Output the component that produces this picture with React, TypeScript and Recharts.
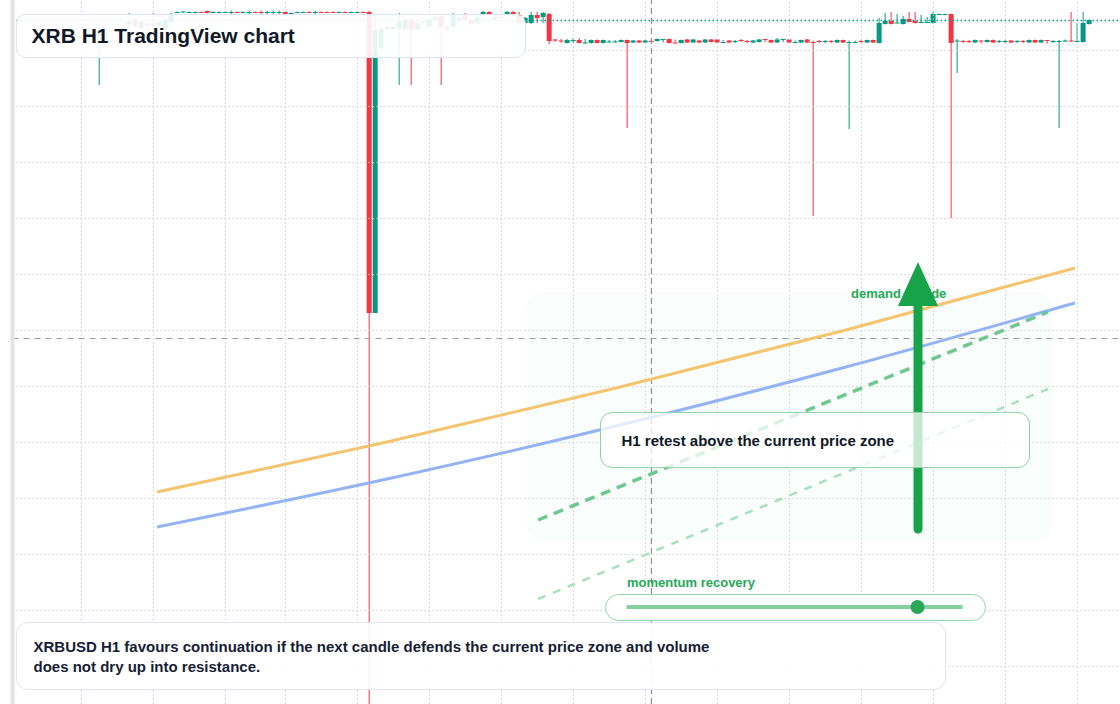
import {
  Bar,
  ComposedChart,
  Line,
  ReferenceArea,
  ReferenceLine,
  XAxis,
  YAxis,
} from "recharts";

const UP = "#089981";
const DOWN = "#f23645";
const GRID = "#cfcfcf";
const FONT = '"Liberation Sans", Arial, Helvetica, sans-serif';
const INK = "#111827";

// XRBUSD H1 candles, index = hour slot
const OPEN = [
  null, null, null, null, null, null, null, null, null, null,
  null, null, null, null, 0.684, null, null, null, null, 0.696,
  0.7, 0.692, 0.696, 0.697, 0.694, 0.692, 0.698, 0.7075, 0.708, 0.7075,
  0.7075, 0.708, 0.709, 0.7075, 0.7075, 0.7075, 0.7075, 0.708, 0.7075, 0.7075,
  0.708, 0.708, 0.7075, 0.7075, 0.7075, 0.708, 0.7065, 0.7075, 0.7075, 0.708,
  0.7075, 0.708, 0.708, 0.708, 0.7075, 0.708, 0.7075, 0.7075, 0.708, 0.708,
  0.407, 0.672, 0.693, 0.691, 0.692, 0.691, 0.7, 0.691, 0.697, 0.694,
  0.701, 0.704, 0.693, 0.693, 0.7, 0.705, 0.7, 0.697, 0.705, 0.708,
  0.701, 0.703, 0.705, 0.708, 0.705, 0.697, 0.697, 0.705, 0.703, 0.706,
  0.6805, 0.6795, 0.677, 0.6795, 0.68, 0.677, 0.677, 0.68, 0.677, 0.678,
  0.678, 0.678, 0.68, 0.6775, 0.6795, 0.6775, 0.679, 0.679, 0.6805, 0.681,
  0.6775, 0.677, 0.6805, 0.6775, 0.6795, 0.6775, 0.6805, 0.6805, 0.6775, 0.6795,
  0.6785, 0.68, 0.679, 0.6775, 0.678, 0.681, 0.68, 0.6775, 0.6805, 0.6805,
  0.6775, 0.6775, 0.6805, 0.678, 0.679, 0.6785, 0.679, 0.6775, 0.68, 0.6775,
  0.6775, 0.679, 0.6775, 0.68, 0.677, 0.696, 0.699, 0.697, 0.696, 0.701,
  0.699, 0.6975, 0.6975, 0.697, 0.7058, 0.7058, 0.706, 0.679, 0.679, 0.679,
  0.6775, 0.6795, 0.678, 0.68, 0.6785, 0.6785, 0.6795, 0.6785, 0.679, 0.6775,
  0.68, 0.6775, 0.68, 0.6785, 0.6785, 0.679, 0.6795, 0.6785, 0.678, 0.696,
];
const HIGH = [
  null, null, null, null, null, null, null, null, null, null,
  null, null, null, null, 0.692, null, null, null, null, 0.707,
  0.702, 0.7, 0.698, 0.707, 0.699, 0.702, 0.707, 0.7085, 0.709, 0.7085,
  0.7085, 0.7085, 0.7095, 0.7085, 0.7085, 0.7085, 0.7095, 0.7085, 0.7085, 0.7095,
  0.7085, 0.7095, 0.7095, 0.7095, 0.7095, 0.7085, 0.7075, 0.7085, 0.7085, 0.7085,
  0.7095, 0.7085, 0.7085, 0.7085, 0.7085, 0.7085, 0.7085, 0.7085, 0.7085, 0.709,
  0.706, 0.693, 0.694, 0.694, 0.707, 0.702, 0.702, 0.699, 0.7, 0.703,
  0.704, 0.706, 0.694, 0.707, 0.703, 0.707, 0.701, 0.704, 0.709, 0.709,
  0.704, 0.704, 0.709, 0.709, 0.708, 0.703, 0.708, 0.708, 0.708, 0.707,
  0.681, 0.681, 0.681, 0.682, 0.682, 0.681, 0.6805, 0.6805, 0.6805, 0.68,
  0.68, 0.6805, 0.6805, 0.68, 0.68, 0.68, 0.6795, 0.6815, 0.681, 0.6815,
  0.6805, 0.6805, 0.681, 0.681, 0.68, 0.681, 0.681, 0.681, 0.68, 0.68,
  0.68, 0.681, 0.68, 0.68, 0.681, 0.681, 0.6805, 0.682, 0.681, 0.681,
  0.6795, 0.6805, 0.681, 0.6795, 0.68, 0.68, 0.68, 0.6805, 0.6805, 0.6795,
  0.6795, 0.68, 0.6805, 0.6805, 0.702, 0.707, 0.708, 0.706, 0.704, 0.708,
  0.708, 0.705, 0.703, 0.708, 0.7062, 0.7062, 0.7065, 0.681, 0.68, 0.68,
  0.6805, 0.6795, 0.6805, 0.6805, 0.68, 0.68, 0.68, 0.68, 0.68, 0.6805,
  0.6805, 0.6805, 0.68, 0.68, 0.68, 0.6805, 0.708, 0.697, 0.708, 0.7005,
];
const LOW = [
  null, null, null, null, null, null, null, null, null, null,
  null, null, null, null, 0.635, null, null, null, null, 0.69,
  0.692, 0.69, 0.693, 0.69, 0.692, 0.69, 0.697, 0.707, 0.7075, 0.707,
  0.707, 0.707, 0.7065, 0.707, 0.707, 0.707, 0.706, 0.707, 0.707, 0.706,
  0.707, 0.706, 0.706, 0.706, 0.706, 0.7055, 0.706, 0.707, 0.707, 0.707,
  0.706, 0.707, 0.707, 0.707, 0.707, 0.707, 0.707, 0.707, 0.707, 0.016,
  0.407, 0.67, 0.69, 0.69, 0.635, 0.689, 0.635, 0.69, 0.696, 0.693,
  0.7, 0.635, 0.69, 0.692, 0.699, 0.699, 0.695, 0.696, 0.704, 0.704,
  0.7, 0.7, 0.704, 0.704, 0.696, 0.696, 0.696, 0.697, 0.697, 0.676,
  0.678, 0.677, 0.6765, 0.677, 0.6765, 0.6765, 0.6765, 0.6765, 0.6765, 0.6775,
  0.6775, 0.6775, 0.592, 0.677, 0.677, 0.677, 0.678, 0.6785, 0.6775, 0.6765,
  0.677, 0.6765, 0.677, 0.677, 0.677, 0.677, 0.6775, 0.677, 0.677, 0.677,
  0.677, 0.678, 0.677, 0.677, 0.6775, 0.678, 0.677, 0.677, 0.678, 0.677,
  0.677, 0.677, 0.677, 0.504, 0.677, 0.677, 0.677, 0.677, 0.677, 0.591,
  0.677, 0.677, 0.677, 0.677, 0.6765, 0.6955, 0.6955, 0.6965, 0.6955, 0.6975,
  0.6965, 0.6975, 0.6975, 0.6965, 0.7058, 0.7058, 0.502, 0.647, 0.677, 0.677,
  0.677, 0.6765, 0.6775, 0.677, 0.677, 0.677, 0.677, 0.677, 0.677, 0.677,
  0.677, 0.677, 0.6765, 0.677, 0.592, 0.678, 0.678, 0.678, 0.6775, 0.6955,
];
const CLOSE = [
  null, null, null, null, null, null, null, null, null, null,
  null, null, null, null, 0.69, null, null, null, null, 0.698,
  0.694, 0.698, 0.695, 0.694, 0.698, 0.7, 0.705, 0.708, 0.7085, 0.708,
  0.708, 0.7075, 0.707, 0.708, 0.708, 0.708, 0.708, 0.7075, 0.708, 0.708,
  0.7075, 0.7075, 0.708, 0.708, 0.708, 0.706, 0.707, 0.708, 0.708, 0.7075,
  0.708, 0.7075, 0.7075, 0.7075, 0.708, 0.7075, 0.708, 0.708, 0.7075, 0.407,
  0.69, 0.691, 0.691, 0.693, 0.698, 0.7, 0.691, 0.697, 0.698, 0.701,
  0.703, 0.693, 0.691, 0.705, 0.702, 0.7, 0.696, 0.702, 0.708, 0.705,
  0.703, 0.702, 0.708, 0.705, 0.697, 0.702, 0.705, 0.702, 0.707, 0.679,
  0.68, 0.679, 0.68, 0.68, 0.677, 0.6775, 0.68, 0.677, 0.68, 0.6785,
  0.6785, 0.68, 0.677, 0.6795, 0.6775, 0.6795, 0.6785, 0.681, 0.681, 0.677,
  0.677, 0.68, 0.6775, 0.6805, 0.6775, 0.6805, 0.678, 0.6775, 0.678, 0.6775,
  0.679, 0.6795, 0.6785, 0.6795, 0.6805, 0.6805, 0.6775, 0.6805, 0.681, 0.6775,
  0.678, 0.68, 0.6775, 0.6775, 0.6785, 0.679, 0.6785, 0.68, 0.6775, 0.678,
  0.678, 0.6785, 0.68, 0.6775, 0.697, 0.699, 0.696, 0.6975, 0.701, 0.698,
  0.697, 0.698, 0.698, 0.706, 0.706, 0.706, 0.677, 0.6795, 0.6785, 0.6785,
  0.68, 0.679, 0.68, 0.6775, 0.679, 0.679, 0.6775, 0.679, 0.6785, 0.68,
  0.6775, 0.68, 0.6795, 0.679, 0.679, 0.6795, 0.679, 0.679, 0.697, 0.7,
];

const TIME_TICKS = [11, 23, 35, 45, 57, 69, 81, 93, 105, 117, 129, 141, 153, 165, 177];
const PRICE_TICKS = [0.0535, 0.1095, 0.1655, 0.2215, 0.2775, 0.3335, 0.3895, 0.4455, 0.5015, 0.5575, 0.6135, 0.6695];
const LAST_PRICE = 0.6995;
const CROSS_PRICE = 0.3815;
const CROSS_SLOT = 106;
const X_DOMAIN = [-0.5, 184.1];

// drawn trend guides
const RESIST_X = [23.6, 61.9, 100.1, 138.4, 176.6];
const RESIST_Y = [0.228, 0.278, 0.332, 0.39, 0.452];
const SUPPORT_Y = [0.193, 0.241, 0.294, 0.353, 0.417];
const CHANNEL_X = [87.1, 172.1];
const CHANNEL_HI = [0.2, 0.408];
const CHANNEL_LO = [0.121, 0.331];

const candles = OPEN.map((o, i) => ({ i, o, h: HIGH[i], l: LOW[i], c: CLOSE[i] }));
const resistance = RESIST_X.map((i, k) => ({ i, v: RESIST_Y[k] }));
const support = RESIST_X.map((i, k) => ({ i, v: SUPPORT_Y[k] }));
const channelHi = CHANNEL_X.map((i, k) => ({ i, v: CHANNEL_HI[k] }));
const channelLo = CHANNEL_X.map((i, k) => ({ i, v: CHANNEL_LO[k] }));

function Candle(props: any) {
  const { x, y, width, height, payload } = props;
  if (!payload || payload.o == null) return <g />;
  const { o, h, l, c } = payload;
  const top = Math.min(y, y + height);
  const span = Math.abs(height);
  const k = h - l > 0 ? span / (h - l) : 0;
  const yo = top + (h - o) * k;
  const yc = top + (h - c) * k;
  const color = c >= o ? UP : DOWN;
  const cx = x + width / 2;
  return (
    <g>
      <line x1={cx} x2={cx} y1={top} y2={top + Math.max(span, 1)} stroke={color} strokeWidth={1} />
      <rect x={cx - 2.5} y={Math.min(yo, yc)} width={5} height={Math.max(1, Math.abs(yo - yc))} fill={color} />
    </g>
  );
}

const box = {
  position: "absolute" as const,
  boxSizing: "border-box" as const,
  fontFamily: FONT,
  fontWeight: 700,
  color: INK,
};

export default function App() {
  return (
    <div style={{ position: "absolute", left: 0, top: 0, width: 1120, height: 704, background: "#fff", overflow: "hidden" }}>
      <ComposedChart
        width={1120}
        height={704}
        data={candles}
        margin={{ top: 0, right: 0, bottom: 0, left: 0 }}
        accessibilityLayer={false}
        style={{ outline: "none" }}
      >
        <XAxis
          dataKey="i"
          type="number"
          domain={X_DOMAIN}
          allowDataOverflow
          ticks={TIME_TICKS}
          height={0}
          tick={false}
          tickLine={false}
          axisLine={false}
        />
        <XAxis xAxisId="ov" dataKey="i" type="number" domain={X_DOMAIN} allowDataOverflow hide />
        <YAxis
          type="number"
          domain={[0.016, 0.72]}
          allowDataOverflow
          ticks={PRICE_TICKS}
          width={12.5}
          tick={false}
          tickLine={false}
          axisLine={{ stroke: "#e4e4e4", strokeWidth: 4 }}
        />
        {PRICE_TICKS.map((p) => (
          <ReferenceLine key={`h${p}`} y={p} stroke={GRID} strokeDasharray="1.5 2.5" />
        ))}
        {TIME_TICKS.map((t) => (
          <ReferenceLine key={`v${t}`} x={t} stroke={GRID} strokeDasharray="1.5 2.5" />
        ))}
        <ReferenceLine y={CROSS_PRICE} stroke="#9b9b9b" strokeDasharray="6 5" />
        <ReferenceLine x={CROSS_SLOT} stroke="#8f8f8f" strokeWidth={1.2} strokeDasharray="6 4" />
        <ReferenceLine y={LAST_PRICE} stroke={UP} strokeWidth={1.6} strokeDasharray="1.6 2.4" />
        <Bar
          dataKey={(d: any) => (d.o == null ? null : [d.l, d.h])}
          barSize={6}
          shape={Candle}
          isAnimationActive={false}
        />
        <ReferenceArea
          x1={85.3}
          x2={172.9}
          y1={0.179}
          y2={0.428}
          shape={(p: any) => (
            <rect x={p.x} y={p.y} width={p.width} height={p.height} rx={16} fill="#22c55e" fillOpacity={0.028} />
          )}
        />
        <Line xAxisId="ov" data={resistance} dataKey="v" type="monotone" stroke="#f5c46e" strokeWidth={3} dot={false} isAnimationActive={false} />
        <Line xAxisId="ov" data={support} dataKey="v" type="monotone" stroke="#93b3f3" strokeWidth={3} dot={false} isAnimationActive={false} />
        <Line xAxisId="ov" data={channelHi} dataKey="v" type="linear" stroke="#6fc890" strokeWidth={3.5} strokeDasharray="10 7" dot={false} isAnimationActive={false} />
        <Line xAxisId="ov" data={channelLo} dataKey="v" type="linear" stroke="#a9dfbd" strokeWidth={2.5} strokeDasharray="8 8" dot={false} isAnimationActive={false} />
      </ComposedChart>

      <div style={{ ...box, left: 851, top: 287, fontSize: 13, lineHeight: "13px", color: "#27a85a", whiteSpace: "nowrap" }}>
        demand upside
      </div>
      <svg width={1120} height={704} style={{ position: "absolute", left: 0, top: 0, pointerEvents: "none" }}>
        <line x1={918} x2={918} y1={300} y2={529} stroke="#16a34a" strokeWidth={9} strokeLinecap="round" />
        <polygon points="918,262 938,306 898,306" fill="#16a34a" />
      </svg>

      <div
        style={{
          ...box,
          left: 600,
          top: 412,
          width: 430,
          height: 56,
          border: "1.5px solid #8fd4a6",
          borderRadius: 12,
          background: "rgba(255,255,255,0.75)",
          display: "flex",
          alignItems: "center",
          paddingLeft: 20.5,
          fontSize: 15,
        }}
      >
        H1 retest above the current price zone
      </div>

      <div style={{ ...box, left: 627, top: 576, fontSize: 13, lineHeight: "13px", color: "#27a85a", whiteSpace: "nowrap" }}>
        momentum recovery
      </div>
      <div
        style={{
          ...box,
          left: 605,
          top: 594,
          width: 381,
          height: 27,
          border: "1.5px solid #93d6ab",
          borderRadius: 14,
          background: "#fff",
        }}
      >
        <svg width={378} height={24} style={{ position: "absolute", left: 0, top: 0 }}>
          <line x1={20.5} x2={356.5} y1={12} y2={12} stroke="#86cfa0" strokeWidth={4} />
          <circle cx={311.5} cy={12} r={7} fill="#2aa85a" />
        </svg>
      </div>

      <div
        style={{
          ...box,
          left: 16,
          top: 14,
          width: 510,
          height: 44,
          border: "1.5px solid #d9e6f8",
          borderRadius: 10,
          background: "rgba(255,255,255,0.9)",
          display: "flex",
          alignItems: "center",
          paddingLeft: 14.5,
          fontSize: 21,
        }}
      >
        XRB H1 TradingView chart
      </div>

      <div
        style={{
          ...box,
          left: 16,
          top: 622,
          width: 930,
          height: 68,
          border: "1.5px solid #dbe6f6",
          borderRadius: 12,
          background: "rgba(255,255,255,0.9)",
          paddingLeft: 16.5,
          paddingTop: 14.3,
          fontSize: 15,
          lineHeight: "20px",
          color: "#172033",
        }}
      >
        XRBUSD H1 favours continuation if the next candle defends the current price zone and volume
        <br />
        does not dry up into resistance.
      </div>
    </div>
  );
}
